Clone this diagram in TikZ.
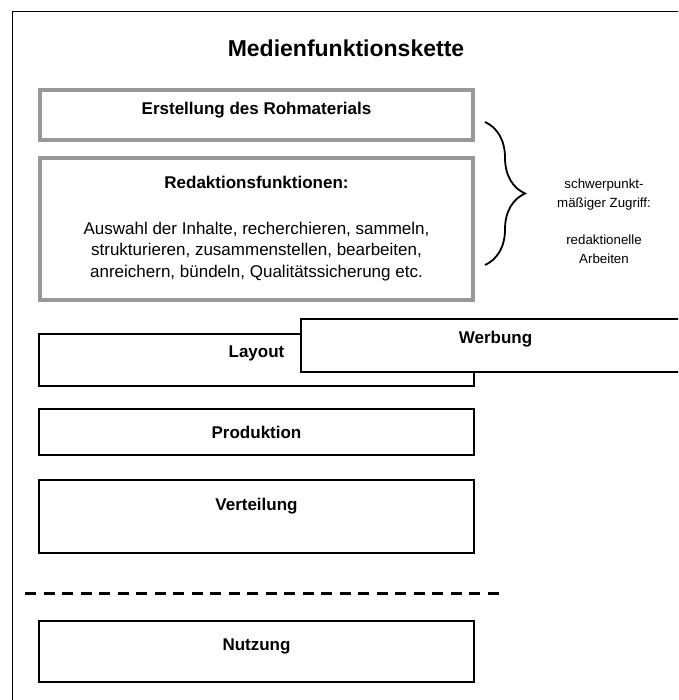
\documentclass[tikz,border=0pt]{standalone}
\usepackage{fontspec}
\setmainfont{Liberation Sans}
\usetikzlibrary{positioning,decorations.pathreplacing}

\definecolor{rahmengrau}{HTML}{999999}

\tikzset{
  kette/.style={rectangle, anchor=north west, inner sep=0pt, outer sep=0pt,
    fill=white},
  schwarz/.style={kette, draw=black, line width=2pt},
  grau/.style={kette, draw=rahmengrau, line width=4.5pt},
  titel/.style={font=\bfseries\fontsize{17}{20}\selectfont, anchor=north,
    inner sep=0pt},
  fliess/.style={font=\fontsize{17}{21.5}\selectfont, align=center,
    anchor=north, inner sep=0pt},
}

\begin{document}
\begin{tikzpicture}[x=1pt,y=-1pt]
  \useasboundingbox (0,0) rectangle (678,700);
  \clip (0,0) rectangle (678,700);
  % Rahmen
  \draw[line width=1pt] (12,720) |- (700,12);
  \node[font=\bfseries\fontsize{23}{27}\selectfont] (titel) at (346,48)
    {Medienfunktionskette};

  % Rohmaterial und Redaktion
  \node[grau, minimum width=433pt, minimum height=50pt,
    label={[titel, yshift=-12pt]north:Erstellung des Rohmaterials}]
    (erst) at (40,90) {};
  \node[grau, minimum width=433pt, minimum height=142pt,
    label={[fliess, yshift=-18pt]north:{\textbf{Redaktionsfunktionen:}\\[24pt]
      Auswahl der Inhalte, recherchieren, sammeln,\\
      strukturieren, zusammenstellen, bearbeiten,\\
      anreichern, bündeln, Qualitätssicherung etc.}}]
    (redak) at (40,158) {};

  % Klammer
  \coordinate (klo) at (485,122);
  \coordinate (klu) at (485,265);
  \draw[line width=1.8pt, decorate, decoration={brace, amplitude=40pt}]
    (klo) -- (klu);
  \node[font=\fontsize{13.3}{18.7}\selectfont, align=center] (zugriff)
    at (604,221) {schwerpunkt-\\mäßiger Zugriff:\\[18.7pt]redaktionelle\\Arbeiten};

  % weitere Stufen
  \node[schwarz, minimum width=435pt, minimum height=52pt,
    label={[titel, yshift=-12pt]north:Layout}] (layout) at (39,334) {};
  \node[schwarz, minimum width=389pt, minimum height=53pt,
    label={[titel, yshift=-12pt]north:Werbung}] (werbung) at (301,319) {};
  \node[schwarz, minimum width=435pt, minimum height=46pt,
    label={[titel, yshift=-17pt]north:Produktion}] (prod) at (39,409) {};
  \node[schwarz, minimum width=435pt, minimum height=73pt,
    label={[titel, yshift=-18pt]north:Verteilung}] (vert) at (39,480) {};

  % Trennlinie
  \coordinate (tl) at (25,593);
  \coordinate (tr) at (501,593);
  \draw[line width=3pt, dash pattern=on 11pt off 7.5pt] (tl) -- (tr);

  \node[schwarz, minimum width=435pt, minimum height=61pt,
    label={[titel, yshift=-18pt]north:Nutzung}] (nutz) at (39,621) {};
\end{tikzpicture}
\end{document}
